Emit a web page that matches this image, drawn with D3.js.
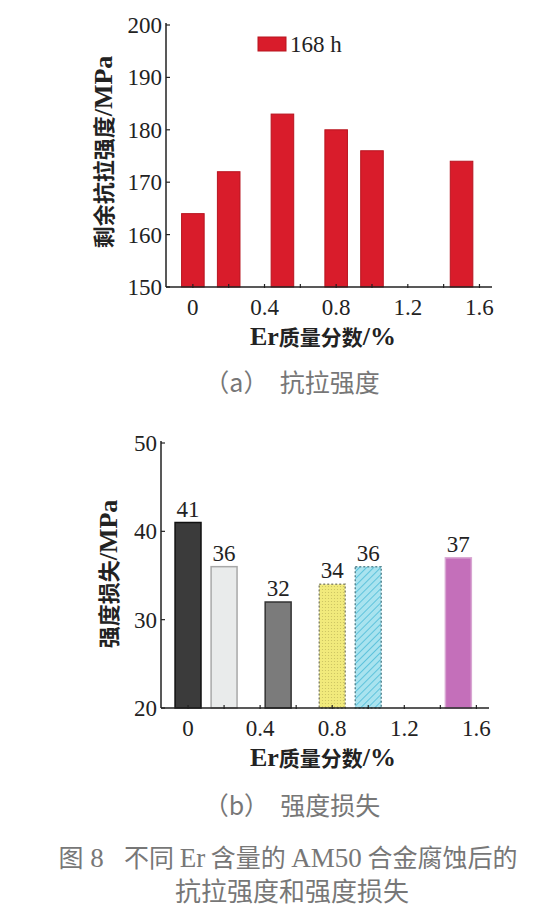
<!DOCTYPE html>
<html>
<head>
<meta charset="utf-8">
<script src="https://cdn.jsdelivr.net/npm/d3@7"></script>
<style>
  body { margin: 0; background: #fff; }
  svg { display: block; }
  text { white-space: pre; }
  .num { font-family: "Liberation Serif", "DejaVu Serif", serif; }
  .cjk { font-family: "Noto Sans CJK SC", sans-serif; }
  .lat { font-family: "Liberation Serif", "DejaVu Serif", serif; }
</style>
</head>
<body>
<svg id="fig" width="560" height="912"></svg>
<script>
// ---- data ----
var erContent = [0, 0.2, 0.5, 0.8, 1.0, 1.5];
var tensileStrength = [164, 172, 183, 180, 176, 174];
var strengthLoss = [41, 36, 32, 34, 36, 37];
var xTickLabels = [0, 0.4, 0.8, 1.2, 1.6];
var xMinorTicks = [0, 0.2, 0.4, 0.6, 0.8, 1.0, 1.2, 1.4, 1.6];
var yTicksA = [150, 160, 170, 180, 190, 200];
var yTicksB = [20, 30, 40, 50];
var legendLabel = "168 h";
var lossFills = ["#3b3b3b", "#e9ebeb", "#7b7b7b", "url(#dots)", "url(#hatch)", "#c46fba"];
var lossStrokes = ["#111", "#a8a8a8", "#333", "#8a8a6a", "#5a8a94", "#d8a6d2"];

var svg = d3.select("#fig");

// patterns for the hatched bars
var defs = svg.append("defs");
var dots = defs.append("pattern").attr("id", "dots")
  .attr("width", 3).attr("height", 3).attr("patternUnits", "userSpaceOnUse");
dots.append("rect").attr("width", 3).attr("height", 3).attr("fill", "#f1ea7c");
dots.append("circle").attr("cx", 1.5).attr("cy", 1.5).attr("r", 0.6).attr("fill", "#c9c060");
var hatch = defs.append("pattern").attr("id", "hatch")
  .attr("width", 5).attr("height", 5).attr("patternUnits", "userSpaceOnUse")
  .attr("patternTransform", "rotate(45)");
hatch.append("rect").attr("width", 5).attr("height", 5).attr("fill", "#a9e3ef");
hatch.append("line").attr("x1", 0).attr("y1", 0).attr("x2", 0).attr("y2", 5)
  .attr("stroke", "#5fc3dc").attr("stroke-width", 2);

// mixed label: CJK runs in sans, latin runs in serif (bigger)
function mixedLabel(el, parts, cjkSize, latSize) {
  parts.forEach(function (p) {
    el.append("tspan")
      .attr("class", p.lat ? "lat" : "cjk")
      .attr("font-size", p.lat ? latSize : cjkSize)
      .text(p.t);
  });
}

function drawFrame(g, x, y, yTicks) {
  var x0 = x.range()[0], x1 = x.range()[1];
  var yb = y.range()[0], yt = y.range()[1];
  // axes lines
  g.append("line").attr("x1", x0).attr("x2", x0).attr("y1", yb).attr("y2", yt - 2)
    .attr("stroke", "#222").attr("stroke-width", 1.5);
  g.append("line").attr("x1", x0).attr("x2", x1).attr("y1", yb).attr("y2", yb)
    .attr("stroke", "#222").attr("stroke-width", 1.5);
  // y ticks (inside) + labels
  g.selectAll(".yt").data(yTicks).enter().append("line")
    .attr("x1", x0).attr("x2", x0 + 4)
    .attr("y1", function (d) { return y(d); }).attr("y2", function (d) { return y(d); })
    .attr("stroke", "#222").attr("stroke-width", 1.2);
  g.selectAll(".yl").data(yTicks).enter().append("text")
    .attr("class", "num")
    .attr("x", x0 - 4).attr("y", function (d) { return y(d) + 8; })
    .attr("text-anchor", "end").attr("font-size", 23).attr("fill", "#222")
    .text(function (d) { return d; });
  // x ticks (inside) + labels
  g.selectAll(".xt").data(xMinorTicks).enter().append("line")
    .attr("x1", function (d) { return x(d); }).attr("x2", function (d) { return x(d); })
    .attr("y1", yb + 1).attr("y2", yb - 3)
    .attr("stroke", "#222").attr("stroke-width", 1.2);
  g.selectAll(".xl").data(xTickLabels).enter().append("text")
    .attr("class", "num")
    .attr("x", function (d) { return x(d); }).attr("y", yb + 28)
    .attr("text-anchor", "middle").attr("font-size", 23).attr("fill", "#222")
    .text(function (d) { return d; });
}

var xTitle = [{ t: "Er", lat: true }, { t: "质量分数" }, { t: "/%", lat: true }];

// ---- (a) tensile strength ----
var xa = d3.scaleLinear().domain([-0.15, 1.67]).range([166, 492]);
var ya = d3.scaleLinear().domain([150, 200]).range([287, 25]);
var ga = svg.append("g");
var bwA = xa(0.063) - xa(-0.063);

ga.selectAll(".bar").data(erContent).enter().append("rect")
  .attr("x", function (d) { return xa(d) - bwA / 2; })
  .attr("width", bwA)
  .attr("y", function (d, i) { return ya(tensileStrength[i]); })
  .attr("height", function (d, i) { return ya(150) - ya(tensileStrength[i]); })
  .attr("fill", "#d91c2b").attr("stroke", "#b8141f").attr("stroke-width", 1);

drawFrame(ga, xa, ya, yTicksA);

// legend
ga.append("rect").attr("x", 258).attr("y", 37).attr("width", 28).attr("height", 14)
  .attr("fill", "#d91c2b").attr("stroke", "#b8141f");
ga.append("text").attr("class", "num").attr("x", 290).attr("y", 52)
  .attr("font-size", 23).attr("fill", "#222").text(legendLabel);

mixedLabel(ga.append("text")
  .attr("transform", "translate(112,152) rotate(-90)")
  .attr("text-anchor", "middle").attr("font-weight", "bold").attr("fill", "#222"),
  [{ t: "剩余抗拉强度" }, { t: "/MPa", lat: true }], 22, 26);
mixedLabel(ga.append("text")
  .attr("x", 323).attr("y", 345).attr("text-anchor", "middle")
  .attr("font-weight", "bold").attr("fill", "#222"), xTitle, 21, 26);
ga.append("text").attr("class", "cjk")
  .attr("x", 292).attr("y", 392).attr("text-anchor", "middle")
  .attr("font-size", 25).attr("fill", "#777")
  .text("（a）  抗拉强度");

// ---- (b) strength loss ----
var xb = d3.scaleLinear().domain([-0.15, 1.67]).range([161, 489]);
var yb = d3.scaleLinear().domain([20, 50]).range([708, 443]);
var gb = svg.append("g");
var bwB = xb(0.072) - xb(-0.072);

gb.selectAll(".bar").data(erContent).enter().append("rect")
  .attr("x", function (d) { return xb(d) - bwB / 2; })
  .attr("width", bwB)
  .attr("y", function (d, i) { return yb(strengthLoss[i]); })
  .attr("height", function (d, i) { return yb(20) - yb(strengthLoss[i]); })
  .attr("fill", function (d, i) { return lossFills[i]; })
  .attr("stroke", function (d, i) { return lossStrokes[i]; })
  .attr("stroke-width", 1.5)
  .attr("stroke-dasharray", function (d, i) { return (i === 3 || i === 4) ? "2,2" : null; });

gb.selectAll(".val").data(erContent).enter().append("text")
  .attr("class", "num")
  .attr("x", function (d) { return xb(d); })
  .attr("y", function (d, i) { return yb(strengthLoss[i]) - 6; })
  .attr("text-anchor", "middle").attr("font-size", 23).attr("fill", "#222")
  .text(function (d, i) { return strengthLoss[i]; });

drawFrame(gb, xb, yb, yTicksB);

mixedLabel(gb.append("text")
  .attr("transform", "translate(117,574) rotate(-90)")
  .attr("text-anchor", "middle").attr("font-weight", "bold").attr("fill", "#222"),
  [{ t: "强度损失" }, { t: "/MPa", lat: true }], 22, 26);
mixedLabel(gb.append("text")
  .attr("x", 323).attr("y", 766).attr("text-anchor", "middle")
  .attr("font-weight", "bold").attr("fill", "#222"), xTitle, 21, 26);
gb.append("text").attr("class", "cjk")
  .attr("x", 292).attr("y", 815).attr("text-anchor", "middle")
  .attr("font-size", 25).attr("fill", "#777")
  .text("（b）  强度损失");

// figure caption
mixedLabel(svg.append("text")
  .attr("x", 288).attr("y", 867).attr("text-anchor", "middle").attr("fill", "#777"),
  [{ t: "图" }, { t: " 8   ", lat: true }, { t: "不同 " }, { t: "Er", lat: true },
   { t: " 含量的 " }, { t: "AM50", lat: true }, { t: " 合金腐蚀后的" }], 25, 27);
svg.append("text").attr("class", "cjk")
  .attr("x", 292).attr("y", 901).attr("text-anchor", "middle")
  .attr("font-size", 26).attr("fill", "#777")
  .text("抗拉强度和强度损失");
</script>
</body>
</html>
